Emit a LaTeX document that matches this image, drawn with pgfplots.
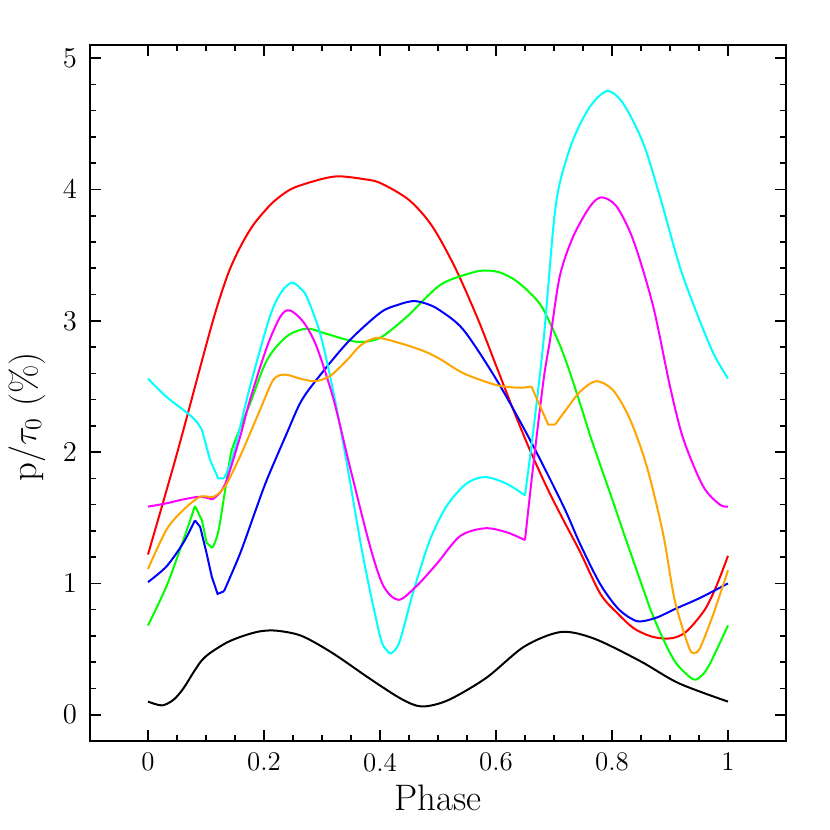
\documentclass[border=0pt]{standalone}
\usepackage{pgfplots}
\pgfplotsset{compat=1.18}
\definecolor{cOrange}{RGB}{255,165,0}
\definecolor{cCyan}{RGB}{0,255,255}
\definecolor{cMagenta}{RGB}{255,0,255}
\definecolor{cGreen}{RGB}{0,255,0}
\definecolor{cRed}{RGB}{255,0,0}
\definecolor{cBlue}{RGB}{0,0,255}
\begin{document}
\begin{tikzpicture}
\useasboundingbox (-45bp,-44.5bp) rectangle (370bp,370.5bp);
\begin{axis}[
  at={(0,0)}, anchor=south west,
  width=348bp, height=348bp, scale only axis,
  xmin=-0.1, xmax=1.1, ymin=-0.2, ymax=5.1,
  xtick={0,0.2,0.4,0.6,0.8,1}, xticklabels={0,0.2,0.4,0.6,0.8,1},
  ytick={0,1,2,3,4,5},
  minor x tick num=3, minor y tick num=4,
  tick pos=both, tick align=inside,
  major tick length=5.5bp, minor tick length=3bp,
  every tick/.style={black, line width=0.8pt},
  axis line style={line width=0.8pt},
  ticklabel style={font=\fontsize{13.5}{15}\selectfont},
  xticklabel style={yshift=-2.5bp},
  yticklabel style={xshift=-3bp},
  xlabel={Phase}, ylabel={p/$\tau_0$ (\%)},
  label style={font=\fontsize{18.5}{21}\selectfont},
  xlabel style={yshift=0.5bp},
  ylabel style={at={(ticklabel cs:0.466,2bp)}},
  every axis plot/.append style={line width=1bp, mark=none},
  sm/.style={smooth, tension=0.5},
]
% black
\addplot[black, sm] coordinates {(0,0.10)(0.024,0.071)(0.044,0.114)(0.061,0.20)(0.078,0.32)(0.092,0.41)(0.107,0.47)(0.136,0.55)(0.164,0.60)(0.193,0.635)(0.222,0.64)(0.265,0.60)(0.318,0.47)(0.384,0.27)(0.437,0.12)(0.472,0.063)(0.517,0.11)(0.583,0.28)(0.649,0.52)(0.712,0.63)(0.769,0.58)(0.848,0.41)(0.915,0.24)(1.0,0.10)};
% red
\addplot[cRed, sm] coordinates {(0,1.22)(0.05,1.99)(0.1,2.81)(0.12,3.12)(0.14,3.38)(0.16,3.57)(0.18,3.72)(0.2,3.83)(0.22,3.92)(0.25,4.01)(0.3,4.08)(0.33,4.10)(0.37,4.08)(0.4,4.05)(0.45,3.92)(0.49,3.72)(0.53,3.40)(0.57,3.00)(0.6,2.66)(0.63,2.32)(0.66,2.00)(0.69,1.71)(0.72,1.45)(0.745,1.24)(0.78,0.92)(0.81,0.77)(0.837,0.66)(0.865,0.60)(0.89,0.58)(0.91,0.59)(0.93,0.64)(0.96,0.80)(0.98,0.98)(1.0,1.21)};
% green
\addplot[cGreen, sm] coordinates {(0,0.68)(0.032,0.98)(0.061,1.33)(0.081,1.59)};
\addplot[cGreen] coordinates {(0.081,1.59)(0.093,1.48)(0.101,1.31)(0.111,1.27)};
\addplot[cGreen, sm] coordinates {(0.111,1.27)(0.121,1.39)(0.133,1.71)(0.141,1.94)(0.147,2.05)(0.176,2.37)(0.205,2.70)(0.239,2.88)(0.274,2.94)(0.308,2.90)(0.36,2.84)(0.4,2.87)(0.446,3.03)(0.48,3.18)(0.503,3.27)(0.526,3.32)(0.572,3.38)(0.605,3.37)(0.636,3.30)(0.67,3.16)(0.687,3.04)(0.716,2.75)(0.745,2.37)(0.765,2.09)(0.802,1.62)(0.822,1.36)(0.86,0.88)(0.871,0.75)(0.891,0.55)(0.911,0.39)(0.94,0.27)(0.955,0.30)(0.969,0.39)(1.0,0.68)};
% blue
\addplot[cBlue, sm] coordinates {(0,1.01)(0.032,1.13)(0.061,1.31)(0.081,1.48)};
\addplot[cBlue] coordinates {(0.081,1.48)(0.09,1.43)(0.101,1.23)(0.11,1.05)(0.12,0.92)(0.131,0.94)};
\addplot[cBlue, sm] coordinates {(0.131,0.94)(0.159,1.23)(0.185,1.55)(0.205,1.79)(0.239,2.14)(0.262,2.37)(0.285,2.52)(0.343,2.83)(0.4,3.06)(0.43,3.12)(0.457,3.15)(0.48,3.13)(0.503,3.08)(0.544,2.93)(0.601,2.55)(0.659,2.09)(0.716,1.59)(0.745,1.30)(0.779,1.0)(0.808,0.82)(0.83,0.74)(0.848,0.71)(0.877,0.74)(0.911,0.81)(0.952,0.89)(1.0,1.0)};
% cyan
\addplot[cCyan, sm] coordinates {(0,2.56)(0.032,2.42)(0.07,2.29)(0.084,2.23)(0.093,2.17)};
\addplot[cCyan] coordinates {(0.093,2.17)(0.107,1.94)(0.121,1.80)(0.131,1.80)};
\addplot[cCyan, sm] coordinates {(0.131,1.80)(0.147,1.98)(0.176,2.50)(0.21,3.03)(0.23,3.22)(0.248,3.29)(0.262,3.25)(0.274,3.18)(0.297,2.90)(0.32,2.45)(0.343,1.91)(0.371,1.20)(0.4,0.60)(0.412,0.49)(0.42,0.47)(0.434,0.56)(0.457,0.93)(0.486,1.33)(0.515,1.59)(0.549,1.76)(0.581,1.81)(0.618,1.76)(0.65,1.67)};
\addplot[cCyan, sm] coordinates {(0.65,1.67)(0.664,2.15)(0.682,2.85)(0.699,3.72)(0.71,4.05)(0.733,4.38)(0.762,4.63)(0.792,4.75)(0.82,4.65)(0.854,4.35)(0.883,3.94)(0.917,3.41)(0.946,3.06)(0.975,2.75)(1.0,2.56)};
% magenta
\addplot[cMagenta, sm] coordinates {(0,1.585)(0.032,1.61)(0.061,1.64)(0.09,1.66)(0.111,1.64)};
\addplot[cMagenta, sm] coordinates {(0.111,1.64)(0.124,1.69)(0.136,1.79)(0.159,2.12)(0.176,2.40)(0.205,2.80)(0.228,3.03)(0.244,3.08)(0.268,2.99)(0.291,2.80)(0.32,2.40)(0.348,1.89)(0.383,1.28)(0.406,0.98)(0.432,0.875)(0.463,0.98)(0.498,1.15)(0.538,1.36)(0.581,1.42)(0.618,1.39)(0.65,1.33)};
\addplot[cMagenta, sm] coordinates {(0.65,1.33)(0.664,1.89)(0.682,2.55)(0.693,2.85)(0.71,3.34)(0.733,3.64)(0.762,3.87)(0.782,3.94)(0.808,3.87)(0.837,3.61)(0.871,3.11)(0.9,2.50)(0.923,2.10)(0.957,1.74)(0.986,1.60)(1.0,1.585)};
% orange
\addplot[cOrange, sm] coordinates {(0,1.11)(0.032,1.41)(0.061,1.56)(0.09,1.66)(0.113,1.66)(0.133,1.74)(0.159,1.97)(0.193,2.32)(0.216,2.55)(0.236,2.59)(0.262,2.56)(0.288,2.54)(0.314,2.58)(0.343,2.70)(0.366,2.81)(0.394,2.87)(0.434,2.83)(0.475,2.77)(0.503,2.71)(0.544,2.60)(0.601,2.51)(0.641,2.49)(0.661,2.50)};
\addplot[cOrange] coordinates {(0.661,2.50)(0.676,2.35)(0.69,2.21)(0.702,2.21)};
\addplot[cOrange, sm] coordinates {(0.702,2.21)(0.722,2.33)(0.745,2.46)(0.773,2.54)(0.802,2.47)(0.831,2.25)(0.86,1.89)(0.888,1.38)(0.908,0.875)(0.932,0.52)(0.941,0.47)(0.952,0.51)(0.975,0.77)(1.0,1.10)};
\end{axis}
\end{tikzpicture}
\end{document}
